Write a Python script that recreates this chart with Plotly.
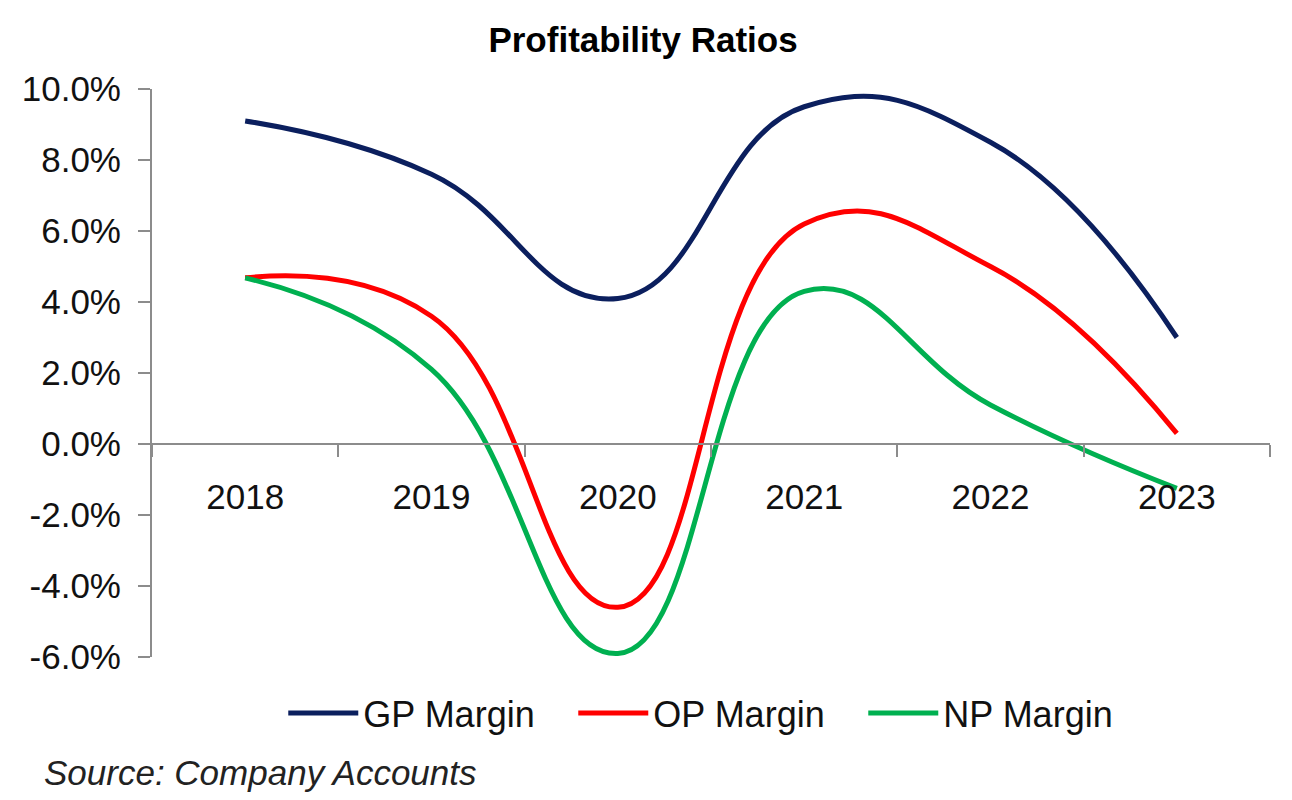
import plotly.graph_objects as go

# 年度と各利益率（小数）
years = ["2018", "2019", "2020", "2021", "2022", "2023"]
gp_margin = [0.091, 0.076, 0.041, 0.095, 0.085, 0.030]
op_margin = [0.0468, 0.036, -0.046, 0.062, 0.050, 0.003]
np_margin = [0.0468, 0.021, -0.059, 0.043, 0.011, -0.0125]

# y軸の目盛り（ハイフンのマイナス記号）
y_tick_values = [-0.06, -0.04, -0.02, 0.0, 0.02, 0.04, 0.06, 0.08, 0.10]
y_tick_labels = ["-6.0%", "-4.0%", "-2.0%", "0.0%", "2.0%", "4.0%", "6.0%", "8.0%", "10.0%"]

series_names = ["GP Margin", "OP Margin", "NP Margin"]
series_colors = ["#0b1f5e", "#ff0000", "#00b050"]

font_family = "Liberation Sans, Arial, sans-serif"
axis_grey = "#8c8c8c"

fig = go.Figure()

for name, values, color in zip(series_names, [gp_margin, op_margin, np_margin], series_colors):
    fig.add_trace(go.Scatter(
        x=years,
        y=values,
        name=name,
        mode="lines",
        line=dict(color=color, width=5, shape="spline", smoothing=1.3),
    ))

# x軸は0%の位置に置く
fig.update_xaxes(
    type="category",
    range=[-0.5, 5.5],
    anchor="free",
    position=0.375,
    automargin=False,
    showline=True,
    linecolor=axis_grey,
    linewidth=2,
    showgrid=False,
    zeroline=False,
    ticks="outside",
    tickson="boundaries",
    ticklen=12,
    tickwidth=1.5,
    tickcolor=axis_grey,
    ticklabelstandoff=22,
    tickfont=dict(family=font_family, size=35, color="#111111"),
)

fig.update_yaxes(
    range=[-0.06, 0.10],
    tickvals=y_tick_values,
    ticktext=y_tick_labels,
    automargin=False,
    showline=True,
    linecolor=axis_grey,
    linewidth=2,
    showgrid=False,
    zeroline=False,
    ticks="outside",
    ticklen=12,
    tickwidth=1.5,
    tickcolor=axis_grey,
    ticklabelstandoff=10,
    tickfont=dict(family=font_family, size=35, color="#111111"),
)

fig.update_layout(
    width=1292,
    height=800,
    margin=dict(l=144, r=30, t=81, b=151, autoexpand=False),
    paper_bgcolor="white",
    plot_bgcolor="white",
    title=dict(
        text="<b>Profitability Ratios</b>",
        x=0.4915,
        xanchor="center",
        y=0.96,
        yanchor="middle",
        font=dict(family=font_family, size=35, color="#000000"),
    ),
    legend=dict(
        orientation="h",
        x=0.5065,
        xanchor="center",
        y=-0.0986,
        yanchor="middle",
        entrywidth=205,
        entrywidthmode="pixels",
        itemwidth=70,
        font=dict(family=font_family, size=36, color="#111111"),
    ),
    annotations=[
        dict(
            text="<i>Source: Company Accounts</i>",
            xref="paper",
            yref="paper",
            x=-0.0984,
            y=-0.204,
            xanchor="left",
            yanchor="middle",
            showarrow=False,
            font=dict(family=font_family, size=35, color="#222222"),
        )
    ],
)

fig.write_html("out.html")
